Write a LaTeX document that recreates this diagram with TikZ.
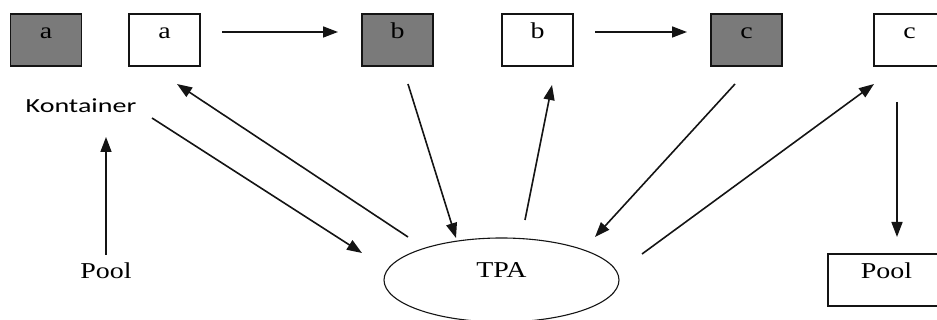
\documentclass[tikz,border=0pt]{standalone}
\usepackage{fontspec}
\setmainfont{Liberation Serif}[FakeStretch=1.23]
\newfontfamily\kontfont{Carlito}[FakeStretch=1.4]
\usetikzlibrary{arrows.meta,shapes.geometric}
\definecolor{boxgray}{RGB}{122,122,122}
\definecolor{linecol}{RGB}{20,20,20}
\tikzset{
  stepbox/.style={draw=linecol, line width=1.4pt, minimum width=71pt, minimum height=52pt,
    inner sep=0pt, text height=15pt, text depth=17pt, font=\fontsize{22.7}{26}\selectfont},
  grayfill/.style={fill=boxgray},
  plain/.style={inner sep=0pt, anchor=base, font=\fontsize{22.7}{26}\selectfont},
  conn/.style={draw=linecol, line width=1.6pt, -{Triangle[length=15pt,width=11pt]}},
}
\begin{document}
\begin{tikzpicture}[x=1pt,y=-1pt]
\useasboundingbox (0,0) rectangle (937,320);
% top row
\node[stepbox,grayfill] (ga) at (46,40) {a};
\node[stepbox] (wa) at (164.5,40) {a};
\node[stepbox,grayfill] (gb) at (397.5,40) {b};
\node[stepbox] (wb) at (537.5,40) {b};
\node[stepbox,grayfill] (gc) at (746.5,40) {c};
\node[stepbox] (wc) at (909.5,40) {c};
% other nodes
\node[inner sep=0pt, anchor=base, font=\kontfont\fontsize{20}{24}\selectfont] (kont) at (81,113) {Kontainer};
\node[plain] (poolL) at (106,279) {Pool};
\node[stepbox, minimum width=117pt] (poolR) at (886.5,280) {Pool};
\node[draw=linecol, line width=1.1pt, ellipse, minimum width=235pt, minimum height=84pt, inner sep=0pt,
  label={[yshift=10pt, font=\fontsize{22.7}{26}\selectfont]center:TPA}] (tpa) at (501.5,280) {};
% connector end points
\coordinate (ab1) at (222,32);  \coordinate (ab2) at (338,32);
\coordinate (bc1) at (595,32);  \coordinate (bc2) at (687,32);
\coordinate (pk1) at (106,255); \coordinate (pk2) at (106,137);
\coordinate (kt1) at (152,118); \coordinate (kt2) at (362,253);
\coordinate (ta1) at (408,237); \coordinate (ta2) at (177,84);
\coordinate (bt1) at (408,84);  \coordinate (bt2) at (456,238);
\coordinate (tb1) at (525,220); \coordinate (tb2) at (552,85);
\coordinate (ct1) at (735,84);  \coordinate (ct2) at (595,237);
\coordinate (tc1) at (642,254); \coordinate (tc2) at (874,84);
\coordinate (cp1) at (897,102); \coordinate (cp2) at (897,237);
% connectors
\draw[conn] (ab1) -- (ab2);
\draw[conn] (bc1) -- (bc2);
\draw[conn] (pk1) -- (pk2);
\draw[conn] (kt1) -- (kt2);
\draw[conn] (ta1) -- (ta2);
\draw[conn] (bt1) -- (bt2);
\draw[conn] (tb1) -- (tb2);
\draw[conn] (ct1) -- (ct2);
\draw[conn] (tc1) -- (tc2);
\draw[conn] (cp1) -- (cp2);
\end{tikzpicture}
\end{document}
